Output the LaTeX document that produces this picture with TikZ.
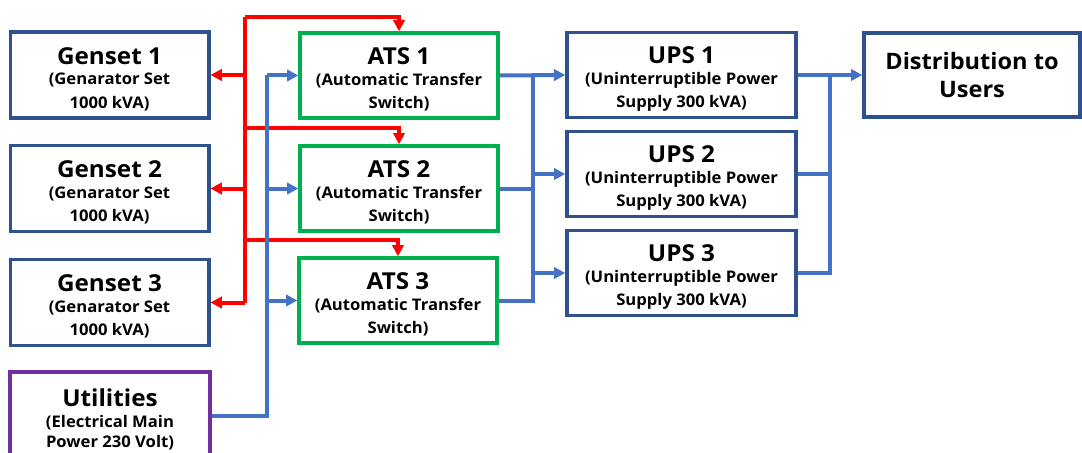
\documentclass[tikz,border=0pt]{standalone}
\usepackage{fontspec}
\setmainfont{Open Sans}[FakeStretch=1.04]
\usetikzlibrary{arrows.meta}
\definecolor{boxblue}{HTML}{2F528F}
\definecolor{linkblue}{HTML}{4472C4}
\definecolor{atsgreen}{HTML}{00B050}
\definecolor{utilpurple}{HTML}{7030A0}
\newcommand{\ttl}[1]{\rule{0pt}{18.5pt}{\fontsize{17.5}{21}\selectfont #1}}
\begin{document}
\begin{tikzpicture}[x=0.75pt,y=-0.75pt,
  box/.style={draw,line width=2.5pt,fill=white,align=center,inner sep=0pt,
    font=\bfseries\fontsize{12}{17.5}\selectfont},
  genbox/.style={box,draw=boxblue,minimum width=149pt,minimum height=64.5pt},
  atsbox/.style={box,draw=atsgreen,minimum width=148.5pt,minimum height=63.75pt},
  upsbox/.style={box,draw=boxblue,minimum width=171.75pt,minimum height=63.75pt},
  redline/.style={draw=red,line width=3pt},
  blueline/.style={draw=linkblue,line width=3pt},
  tip/.style={-{Triangle[length=8.5pt,width=8.5pt]}}]
\useasboundingbox (0,0) rectangle (1082,453);
\node[genbox] (gen1) at (109.5,75) {\ttl{Genset 1}\\[-2pt](Genarator Set\\1000 kVA)};
\node[genbox] (gen2) at (109.5,188.5) {\ttl{Genset 2}\\[-2pt](Genarator Set\\1000 kVA)};
\node[genbox] (gen3) at (109.5,302.5) {\ttl{Genset 3}\\[-2pt](Genarator Set\\1000 kVA)};
\node[box,draw=utilpurple,minimum width=150pt,minimum height=66pt] (util) at (110,416)
  {\ttl{Utilities}\\[-1.5pt](Electrical Main\\[-2.5pt]Power 230 Volt)};
\node[atsbox] (ats1) at (399,75.5) {\ttl{ATS 1}\\[-2pt](Automatic Transfer\\Switch)};
\node[atsbox] (ats2) at (399,188.5) {\ttl{ATS 2}\\[-2pt](Automatic Transfer\\Switch)};
\node[atsbox] (ats3) at (398,300.5) {\ttl{ATS 3}\\[-2pt](Automatic Transfer\\Switch)};
\node[upsbox] (ups1) at (681.5,75) {\ttl{UPS 1}\\[-2pt](Uninterruptible Power\\Supply 300 kVA)};
\node[upsbox] (ups2) at (681.5,174) {\ttl{UPS 2}\\[-2pt](Uninterruptible Power\\Supply 300 kVA)};
\node[upsbox] (ups3) at (681.5,273) {\ttl{UPS 3}\\[-2pt](Uninterruptible Power\\Supply 300 kVA)};
\node[box,draw=boxblue,minimum width=162pt,minimum height=63pt,
  font=\bfseries\fontsize{17}{21}\selectfont] (dist) at (972,75) {Distribution to\\Users};
\coordinate (rtop) at (245,17);
\coordinate (r2) at ([yshift=12pt]ats2.north);
\coordinate (r3) at ([yshift=12pt]ats3.north);
\coordinate (bx) at (267,0);
\coordinate (ax) at (533,0);
\coordinate (ux) at (830,0);
\draw[redline] (rtop) -- (rtop |- gen3.east);
\draw[redline,tip] (rtop) -| (ats1.north);
\draw[redline,tip] (rtop |- r2) -- (r2) -- (ats2.north);
\draw[redline,tip] (rtop |- r3) -- (r3) -- (ats3.north);
\draw[redline,tip] (rtop |- gen1.east) -- (gen1.east);
\draw[redline,tip] (rtop |- gen2.east) -- (gen2.east);
\draw[redline,tip] (rtop |- gen3.east) -- (gen3.east);
\draw[blueline] (util.east) -| (bx |- ats1.west);
\draw[blueline,tip] (bx |- ats1.west) -- (ats1.west);
\draw[blueline,tip] (bx |- ats2.west) -- (ats2.west);
\draw[blueline,tip] (bx |- ats3.west) -- (ats3.west);
\draw[blueline,tip] (ats1.east) -- (ups1.west);
\draw[blueline] (ats2.east) -- (ax |- ats2.east);
\draw[blueline] (ats3.east) -| (ax |- ats1.east);
\draw[blueline,tip] (ax |- ups2.west) -- (ups2.west);
\draw[blueline,tip] (ax |- ups3.west) -- (ups3.west);
\draw[blueline,tip] (ups1.east) -- (dist.west);
\draw[blueline] (ups2.east) -- (ux |- ups2.east);
\draw[blueline] (ups3.east) -| (ux |- ups1.east);
\end{tikzpicture}
\end{document}
